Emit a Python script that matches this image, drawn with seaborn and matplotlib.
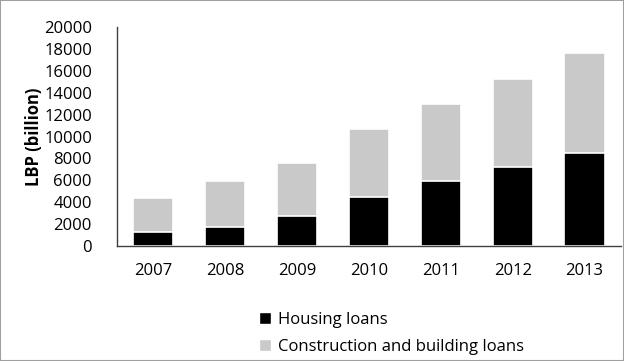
import numpy as np
import pandas as pd
import seaborn as sns
import matplotlib.pyplot as plt
from matplotlib.patches import Patch, Rectangle

years = ["2007", "2008", "2009", "2010", "2011", "2012", "2013"]
housing = [1300, 1700, 2750, 4450, 5900, 7250, 8450]
construction = [3100, 4250, 4800, 6250, 7100, 8050, 9150]

df = pd.DataFrame({"year": years, "housing": housing, "construction": construction})
df["total"] = df["housing"] + df["construction"]

sns.set_style("white")
plt.rcParams["font.family"] = ["Open Sans", "DejaVu Sans"]
plt.rcParams["text.color"] = "black"
plt.rcParams["axes.labelcolor"] = "black"

fig = plt.figure(figsize=(6.24, 3.61), dpi=100)
ax = fig.add_axes([0.1875, 0.3186, 0.807, 0.6064])

grey = "#c9c9c9"
sns.barplot(data=df, x="year", y="total", color=grey, width=0.56,
            edgecolor="white", linewidth=1.2, ax=ax, saturation=1)
sns.barplot(data=df, x="year", y="housing", color="black", width=0.56,
            edgecolor="white", linewidth=1.2, ax=ax, saturation=1)

ax.set_ylim(0, 20000)
ax.set_yticks(np.arange(0, 20001, 2000))
ax.set_xlim(-0.5, 6.5)
ax.set_xlabel("")
ax.set_ylabel("LBP (billion)", fontsize=12, fontweight="bold", labelpad=1)
ax.tick_params(axis="both", labelsize=12, length=0, colors="black")
ax.tick_params(axis="y", pad=18)
ax.tick_params(axis="x", pad=12)
for side in ["top", "right"]:
    ax.spines[side].set_visible(False)
for side in ["left", "bottom"]:
    ax.spines[side].set_color("#404040")
    ax.spines[side].set_linewidth(1.0)

handles = [Patch(facecolor="black", label="Housing loans"),
           Patch(facecolor=grey, label="Construction and building loans")]
fig.legend(handles=handles, loc="upper left", bbox_to_anchor=(0.405, 0.155),
           frameon=False, fontsize=12, handlelength=0.7, handleheight=0.7,
           handletextpad=0.4, labelspacing=0.65, borderaxespad=0)

fig.patches.append(Rectangle((0, 0), 1, 1, transform=fig.transFigure,
                             fill=False, edgecolor="#a0a0a0", linewidth=1.5))

fig.savefig("out.png", dpi=100)
